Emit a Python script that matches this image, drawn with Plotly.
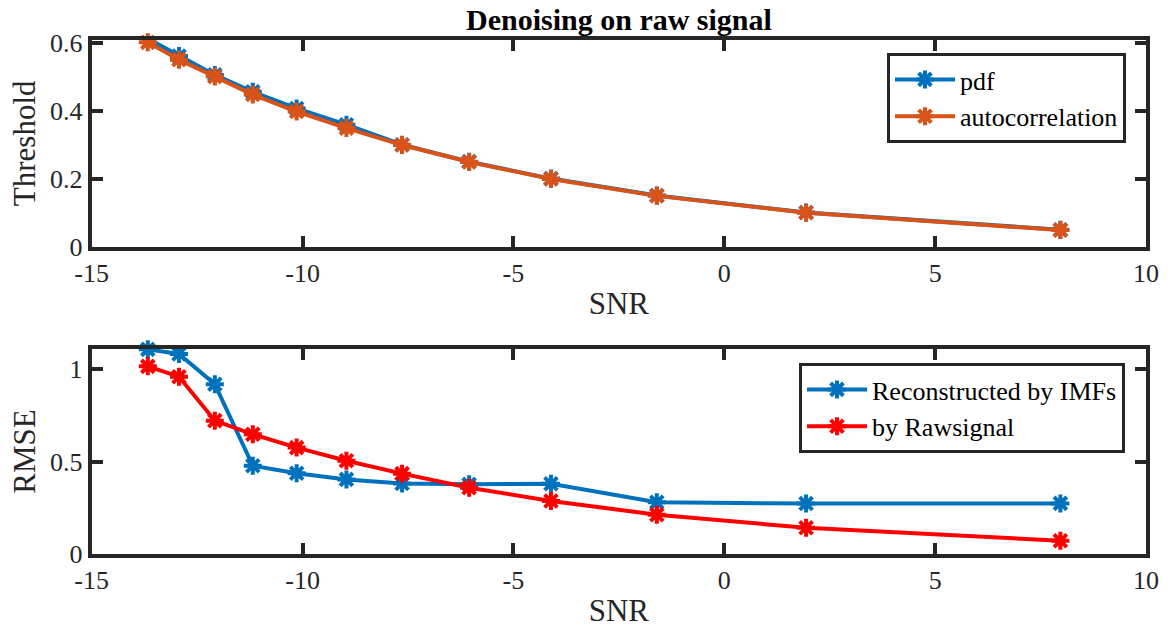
import plotly.graph_objects as go

# SNR levels (dB) shared by both panels
snr = [-13.67, -12.93, -12.08, -11.18, -10.14, -8.96, -7.64, -6.05, -4.11, -1.60, 1.94, 7.97]

# Threshold estimates
thr_pdf = [0.614, 0.563, 0.507, 0.457, 0.408, 0.360, 0.301, 0.251, 0.201, 0.151, 0.101, 0.050]
thr_autocorr = [0.603, 0.552, 0.502, 0.449, 0.399, 0.350, 0.300, 0.250, 0.200, 0.150, 0.100, 0.049]

# Reconstruction error
rmse_imfs = [1.108, 1.083, 0.919, 0.478, 0.437, 0.404, 0.382, 0.377, 0.380, 0.280, 0.273, 0.274]
rmse_raw = [1.016, 0.960, 0.722, 0.648, 0.576, 0.505, 0.435, 0.359, 0.287, 0.213, 0.142, 0.072]

x_ticks = [-15, -10, -5, 0, 5, 10]
thr_ticks = [0, 0.2, 0.4, 0.6]
rmse_ticks = [0, 0.5, 1]

BLUE = "#0072BD"
ORANGE = "#D95319"
RED = "#FF0000"
AXIS = "#262626"
FONT = "Liberation Serif"

W, H = 1174, 630
x_dom = [91.7 / W, 1146 / W]
top_dom = [1 - 246.7 / H, 1 - 40 / H]
bot_dom = [1 - 554 / H, 1 - 349 / H]


def series(x, y, name, color, xa, ya, legend):
    return go.Scatter(
        x=x, y=y, name=name, mode="lines+markers",
        xaxis=xa, yaxis=ya, legend=legend,
        line=dict(color=color, width=4),
        marker=dict(symbol="asterisk-open", size=15, color=color,
                    line=dict(color=color, width=4)),
        cliponaxis=False,
    )


fig = go.Figure()
fig.add_trace(series(snr, thr_pdf, "pdf", BLUE, "x", "y", "legend"))
fig.add_trace(series(snr, thr_autocorr, "autocorrelation", ORANGE, "x", "y", "legend"))
fig.add_trace(series(snr, rmse_imfs, "Reconstructed by IMFs", BLUE, "x2", "y2", "legend2"))
fig.add_trace(series(snr, rmse_raw, "by Rawsignal", RED, "x2", "y2", "legend2"))

axis_common = dict(
    showline=True, linecolor=AXIS, linewidth=4, mirror="ticks",
    ticks="inside", ticklen=11, tickwidth=4, tickcolor=AXIS,
    showgrid=False, zeroline=False, automargin=False,
    tickfont=dict(family=FONT, size=26, color=AXIS),
)
title_font = dict(family=FONT, size=31, color=AXIS)

xaxis_cfg = dict(axis_common, range=[-15, 10], tickvals=x_ticks,
                 ticktext=[str(v) for v in x_ticks], domain=x_dom,
                 title=dict(text="SNR", font=title_font, standoff=6))

fig.update_layout(
    width=W, height=H,
    margin=dict(l=0, r=0, t=0, b=0),
    paper_bgcolor="white", plot_bgcolor="white",
    font=dict(family=FONT, color=AXIS),
    xaxis=dict(xaxis_cfg, anchor="y"),
    xaxis2=dict(xaxis_cfg, anchor="y2"),
    yaxis=dict(axis_common, range=[0, 0.61], tickvals=thr_ticks,
               ticktext=["0", "0.2", "0.4", "0.6"], domain=top_dom, anchor="x",
               title=dict(text="Threshold", font=title_font, standoff=6)),
    yaxis2=dict(axis_common, range=[0, 1.11], tickvals=rmse_ticks,
                ticktext=["0", "0.5", "1"], domain=bot_dom, anchor="x2",
                title=dict(text="RMSE", font=title_font, standoff=6)),
    legend=dict(
        x=1126 / W, xanchor="right", y=1 - 53 / H, yanchor="top",
        bgcolor="white", bordercolor=AXIS, borderwidth=3,
        font=dict(family=FONT, size=26, color="black"),
        tracegroupgap=0, itemwidth=60,
    ),
    legend2=dict(
        x=1125 / W, xanchor="right", y=1 - 363 / H, yanchor="top",
        bgcolor="white", bordercolor=AXIS, borderwidth=3,
        font=dict(family=FONT, size=26, color="black"),
        tracegroupgap=0, itemwidth=60,
    ),
    showlegend=True,
    annotations=[dict(
        text="<b>Denoising on raw signal</b>", xref="paper", yref="paper",
        x=(x_dom[0] + x_dom[1]) / 2, y=1 - 19 / H, xanchor="center", yanchor="middle",
        showarrow=False, font=dict(family=FONT, size=30, color="black"),
    )],
)

fig.write_html("out.html")
